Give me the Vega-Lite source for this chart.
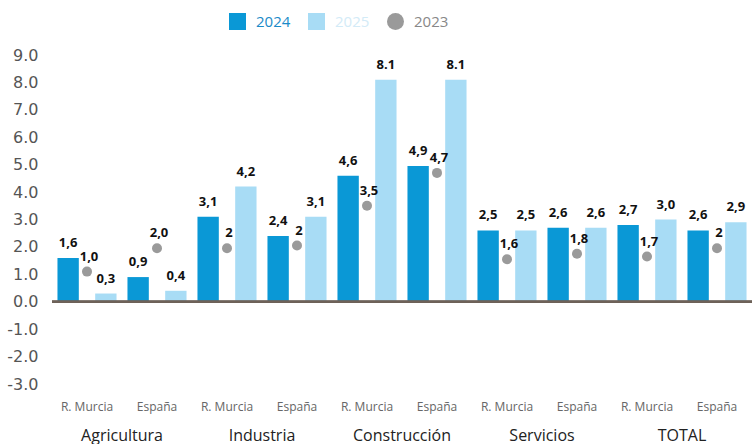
{
  "$schema": "https://vega.github.io/schema/vega-lite/v6.json",
  "padding": {"left": 6, "top": 13, "right": 0, "bottom": 0},
  "background": "white",
  "bounds": "flush",
  "data": {"values": [
    {"sector": "Agricultura", "region": "R. Murcia", "series": "2024", "value": 1.6, "label": "1,6"},
    {"sector": "Agricultura", "region": "R. Murcia", "series": "2025", "value": 0.3, "label": "0,3"},
    {"sector": "Agricultura", "region": "R. Murcia", "series": "2023", "value": 1.1, "label": "1,0"},
    {"sector": "Agricultura", "region": "España", "series": "2024", "value": 0.9, "label": "0,9"},
    {"sector": "Agricultura", "region": "España", "series": "2025", "value": 0.4, "label": "0,4"},
    {"sector": "Agricultura", "region": "España", "series": "2023", "value": 1.95, "label": "2,0"},
    {"sector": "Industria", "region": "R. Murcia", "series": "2024", "value": 3.1, "label": "3,1"},
    {"sector": "Industria", "region": "R. Murcia", "series": "2025", "value": 4.2, "label": "4,2"},
    {"sector": "Industria", "region": "R. Murcia", "series": "2023", "value": 1.95, "label": "2"},
    {"sector": "Industria", "region": "España", "series": "2024", "value": 2.4, "label": "2,4"},
    {"sector": "Industria", "region": "España", "series": "2025", "value": 3.1, "label": "3,1"},
    {"sector": "Industria", "region": "España", "series": "2023", "value": 2.05, "label": "2"},
    {"sector": "Construcción", "region": "R. Murcia", "series": "2024", "value": 4.6, "label": "4,6"},
    {"sector": "Construcción", "region": "R. Murcia", "series": "2025", "value": 8.1, "label": "8.1"},
    {"sector": "Construcción", "region": "R. Murcia", "series": "2023", "value": 3.5, "label": "3,5"},
    {"sector": "Construcción", "region": "España", "series": "2024", "value": 4.95, "label": "4,9"},
    {"sector": "Construcción", "region": "España", "series": "2025", "value": 8.1, "label": "8.1"},
    {"sector": "Construcción", "region": "España", "series": "2023", "value": 4.7, "label": "4,7"},
    {"sector": "Servicios", "region": "R. Murcia", "series": "2024", "value": 2.6, "label": "2,5"},
    {"sector": "Servicios", "region": "R. Murcia", "series": "2025", "value": 2.6, "label": "2,5"},
    {"sector": "Servicios", "region": "R. Murcia", "series": "2023", "value": 1.55, "label": "1,6"},
    {"sector": "Servicios", "region": "España", "series": "2024", "value": 2.7, "label": "2,6"},
    {"sector": "Servicios", "region": "España", "series": "2025", "value": 2.7, "label": "2,6"},
    {"sector": "Servicios", "region": "España", "series": "2023", "value": 1.75, "label": "1,8"},
    {"sector": "TOTAL", "region": "R. Murcia", "series": "2024", "value": 2.8, "label": "2,7"},
    {"sector": "TOTAL", "region": "R. Murcia", "series": "2025", "value": 3.0, "label": "3,0"},
    {"sector": "TOTAL", "region": "R. Murcia", "series": "2023", "value": 1.65, "label": "1,7"},
    {"sector": "TOTAL", "region": "España", "series": "2024", "value": 2.6, "label": "2,6"},
    {"sector": "TOTAL", "region": "España", "series": "2025", "value": 2.9, "label": "2,9"},
    {"sector": "TOTAL", "region": "España", "series": "2023", "value": 1.95, "label": "2"}
  ]},
  "facet": {
    "column": {
      "field": "sector",
      "type": "nominal",
      "sort": ["Agricultura", "Industria", "Construcción", "Servicios", "TOTAL"],
      "header": {
        "title": null,
        "labelOrient": "bottom",
        "labelFont": "Open Sans",
        "labelFontSize": 16,
        "labelColor": "#222222",
        "labelPadding": 16
      }
    }
  },
  "spacing": 0,
  "spec": {
    "width": 140,
    "height": 329,
    "layer": [
      {
        "transform": [{"filter": "datum.series !== '2023'"}],
        "mark": {"type": "bar"},
        "encoding": {
          "x": {
            "field": "region", "type": "nominal", "sort": ["R. Murcia", "España"],
            "scale": {"paddingInner": 0, "paddingOuter": 0},
            "axis": {"title": null, "domain": false, "ticks": false, "labelAngle": 0, "labelFont": "Open Sans", "labelFontSize": 12, "labelColor": "#666666", "labelPadding": 17}
          },
          "xOffset": {
            "field": "series", "type": "nominal", "sort": ["2024", "2025"],
            "scale": {"paddingInner": 0.434, "paddingOuter": 0.145}
          },
          "y": {
            "field": "value", "type": "quantitative",
            "scale": {"domain": [-3, 9], "nice": false, "zero": false},
            "axis": {"title": null, "grid": false, "domain": false, "values": [-3, -2, -1, 0, 1, 2, 3, 4, 5, 6, 7, 8, 9], "tickCount": 20, "labelExpr": "datum.value < 0 ? '-' + format(-datum.value, '.1f') : format(datum.value, '.1f')", "labelOverlap": false, "ticks": false, "tickSize": 0, "labelPadding": 14, "labelFont": "DejaVu Sans", "labelFontSize": 16, "labelColor": "#555555"}
          },
          "color": {
            "field": "series", "type": "nominal",
            "scale": {"domain": ["2024", "2025", "2023"], "range": ["#0a98d6", "#a8dcf5", "#9a9a9a"]},
            "legend": {
              "orient": "none", "legendX": 177, "legendY": -42, "direction": "horizontal", "title": null,
              "symbolSize": 289, "symbolStrokeWidth": 0, "labelFont": "Open Sans", "labelFontSize": 15,
              "labelOffset": 10, "columnPadding": 17,
              "encode": {
                "labels": {"update": {"fill": {"signal": "datum.label === '2024' ? '#1a8ac8' : datum.label === '2025' ? '#d3ebf7' : '#888888'"}}},
                "symbols": {"update": {"shape": {"signal": "datum.label === '2023' ? 'circle' : 'square'"}}}
              }
            }
          }
        }
      },
      {
        "transform": [{"filter": "datum.series !== '2023'"}],
        "mark": {"type": "text", "font": "Open Sans", "fontWeight": "bold", "fontSize": 13, "baseline": "middle", "dy": -15, "color": "#111111"},
        "encoding": {
          "x": {"field": "region", "type": "nominal", "sort": ["R. Murcia", "España"]},
          "xOffset": {"field": "series", "type": "nominal", "sort": ["2024", "2025"]},
          "y": {"field": "value", "type": "quantitative"},
          "text": {"field": "label"}
        }
      },
      {
        "mark": {"type": "rule", "color": "#6e6259", "strokeWidth": 2},
        "encoding": {"y": {"datum": 0}}
      },
      {
        "transform": [{"filter": "datum.series === '2023'"}],
        "mark": {"type": "circle", "size": 100, "opacity": 1},
        "encoding": {
          "x": {"field": "region", "type": "nominal", "sort": ["R. Murcia", "España"]},
          "y": {"field": "value", "type": "quantitative"},
          "color": {"field": "series", "type": "nominal"}
        }
      },
      {
        "transform": [{"filter": "datum.series === '2023'"}],
        "mark": {"type": "text", "font": "Open Sans", "fontWeight": "bold", "fontSize": 13, "baseline": "middle", "dy": -15, "dx": 2, "color": "#111111"},
        "encoding": {
          "x": {"field": "region", "type": "nominal", "sort": ["R. Murcia", "España"]},
          "y": {"field": "value", "type": "quantitative"},
          "text": {"field": "label"}
        }
      }
    ]
  },
  "config": {
    "view": {"stroke": null},
    "font": "Open Sans"
  }
}
